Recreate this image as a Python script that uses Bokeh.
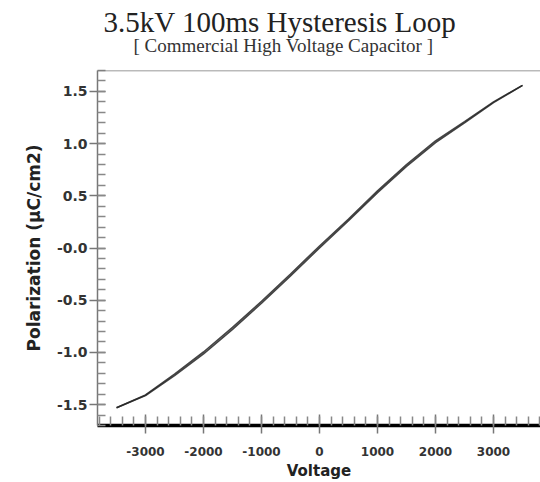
from bokeh.plotting import figure
from bokeh.models import Range1d, Title, FixedTicker, Span
from bokeh.embed import file_html
from bokeh.resources import INLINE

# ---- data ----
voltage = [-3500, -3000, -2500, -2000, -1500, -1000, -500, 0, 500, 1000, 1500, 2000, 2500, 3000, 3500]
pol_rising = [-1.53, -1.413, -1.222, -1.014, -0.779, -0.529, -0.267, 0.001, 0.261, 0.531, 0.782, 1.009, 1.199, 1.392, 1.558]
pol_falling = [-1.53, -1.407, -1.208, -0.996, -0.761, -0.511, -0.249, 0.019, 0.277, 0.547, 0.798, 1.025, 1.211, 1.400, 1.558]

x_ticks = [-3000, -2000, -1000, 0, 1000, 2000, 3000]
x_tick_labels = ["-3000", "-2000", "-1000", "0", "1000", "2000", "3000"]
y_ticks = [-1.5, -1.0, -0.5, 0.0, 0.5, 1.0, 1.5]
y_tick_labels = ["-1.5", "-1.0", "-0.5", "-0.0", "0.5", "1.0", "1.5"]

title_text = "3.5kV 100ms Hysteresis Loop"
subtitle_text = "[ Commercial High Voltage Capacitor ]"
x_label = "Voltage"
y_label = "Polarization (\u00b5C/cm2)"

x_start, x_end = -3828, 3810
y_start, y_end = -1.70, 1.70

p = figure(width=540, height=482, output_backend="svg", toolbar_location=None,
           x_range=Range1d(x_start, x_end), y_range=Range1d(y_start, y_end),
           min_border_left=97, min_border_right=0, min_border_top=70, min_border_bottom=57,
           title=None)
p.outline_line_color = None
p.grid.visible = False
p.background_fill_color = "white"
p.border_fill_color = "white"

# curve: two nearly overlapping branches of the loop
p.line(voltage, pol_rising, line_color="#242424", line_width=1.6, line_alpha=0.85)
p.line(voltage[::-1], pol_falling[::-1], line_color="#242424", line_width=1.6, line_alpha=0.85)

# top border line
p.add_layout(Span(location=y_end, dimension="width", line_color="#777777", line_width=1.5))

# x axis
xa = p.xaxis[0]
xa.ticker = FixedTicker(ticks=x_ticks, minor_ticks=list(range(-3800, 3900, 200)))
xa.major_label_overrides = {t: l for t, l in zip(x_ticks, x_tick_labels)}
xa.axis_line_color = "black"
xa.axis_line_width = 3.5
xa.major_tick_line_color = "#777777"
xa.major_tick_line_width = 1.5
xa.major_tick_in = 11
xa.major_tick_out = 8
xa.minor_tick_line_color = "#888888"
xa.minor_tick_line_width = 1.5
xa.minor_tick_in = 9
xa.minor_tick_out = 0
xa.major_label_text_font = "DejaVu Sans"
xa.major_label_text_font_style = "bold"
xa.major_label_text_font_size = "12px"
xa.major_label_text_color = "#333333"
xa.major_label_standoff = 13
xa.axis_label = x_label
xa.axis_label_text_font = "DejaVu Sans"
xa.axis_label_text_font_style = "bold"
xa.axis_label_text_font_size = "15px"
xa.axis_label_text_color = "#222222"
xa.axis_label_standoff = 3

# y axis
ya = p.yaxis[0]
ya.ticker = FixedTicker(ticks=y_ticks, minor_ticks=[round(-1.7 + 0.1 * i, 1) for i in range(35)])
ya.major_label_overrides = {t: l for t, l in zip(y_ticks, y_tick_labels)}
ya.axis_line_color = "#777777"
ya.axis_line_width = 1.5
ya.major_tick_line_color = "#777777"
ya.major_tick_line_width = 1.5
ya.major_tick_in = 8
ya.major_tick_out = 8
ya.minor_tick_line_color = "#888888"
ya.minor_tick_line_width = 1.5
ya.minor_tick_in = 8
ya.minor_tick_out = 0
ya.major_label_text_font = "DejaVu Sans"
ya.major_label_text_font_style = "bold"
ya.major_label_text_font_size = "14px"
ya.major_label_text_color = "#333333"
ya.major_label_standoff = 2
ya.axis_label = y_label
ya.axis_label_text_font = "DejaVu Sans"
ya.axis_label_text_font_style = "bold"
ya.axis_label_text_font_size = "17px"
ya.axis_label_text_color = "#222222"
ya.axis_label_standoff = 10

p.add_layout(Title(text=subtitle_text, align="left", offset=36, text_font="Liberation Serif",
                   text_font_size="19px", text_font_style="normal", text_color="#333333",
                   standoff=30), "above")
p.add_layout(Title(text=title_text, align="left", offset=6, text_font="Liberation Serif",
                   text_font_size="29px", text_font_style="normal", text_color="#222222",
                   standoff=-40), "above")

open("out.html", "w").write(file_html(p, INLINE))
